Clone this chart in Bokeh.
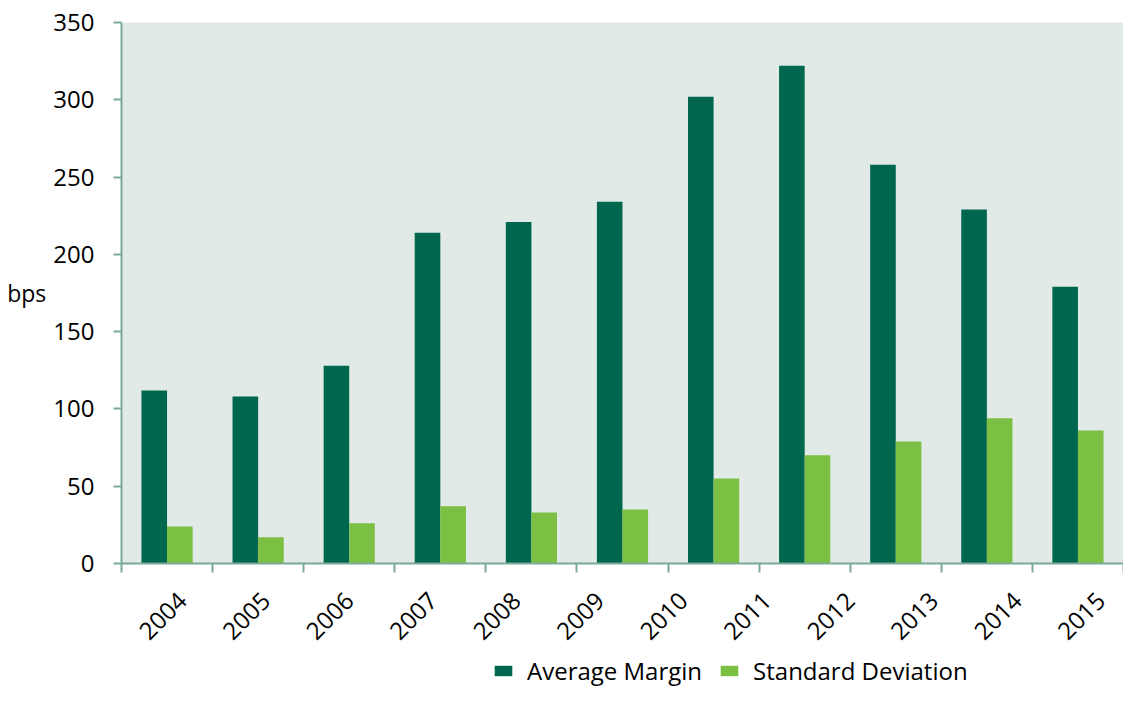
from bokeh.plotting import figure
from bokeh.models import Range1d, FixedTicker, Legend, LegendItem, ColumnDataSource
from bokeh.layouts import column
from bokeh.embed import file_html
from bokeh.resources import INLINE
import math

# ---- data ----
years = ["2004", "2005", "2006", "2007", "2008", "2009", "2010", "2011", "2012", "2013", "2014", "2015"]
avg_margin = [112, 108, 128, 214, 221, 234, 302, 322, 258, 229, 179]
std_dev = [24, 17, 26, 37, 33, 35, 55, 70, 79, 94, 86]
y_ticks = [0, 50, 100, 150, 200, 250, 300, 350]
series_names = ["Average Margin", "Standard Deviation"]

DARK = "#00674f"
LIGHT = "#7bbf43"
BG = "#e1eae7"
AXIS = "#7aaa98"
FONT = "Open Sans"
FS = "24px"

n_groups = len(avg_margin)
bar_w = 0.281
idx = list(range(n_groups))
src = ColumnDataSource(dict(
    xd=[i + 0.5 - bar_w / 2 for i in idx],
    xl=[i + 0.5 + bar_w / 2 for i in idx],
    am=avg_margin,
    sd=std_dev,
))

W = 1123
H_CHART = 655
H_LEG = 32

p = figure(width=W, height=H_CHART, output_backend="svg", toolbar_location=None,
           x_range=Range1d(0, n_groups), y_range=Range1d(0, 350),
           min_border_left=121, min_border_right=0, min_border_top=22,
           min_border_bottom=H_CHART - 22 - 541)
p.background_fill_color = BG
p.border_fill_color = "white"
p.outline_line_color = None
p.grid.visible = False

p.vbar(x="xd", top="am", width=bar_w, source=src, fill_color=DARK, line_color=None)
p.vbar(x="xl", top="sd", width=bar_w, source=src, fill_color=LIGHT, line_color=None)

# x axis: group boundaries as minor ticks, year labels evenly spread
n_lab = len(years)
lab_pos = [(k + 0.5) * n_groups / n_lab + 0.21 for k in range(n_lab)]
xa = p.xaxis[0]
xa.ticker = FixedTicker(ticks=lab_pos, minor_ticks=list(range(n_groups + 1)))
xa.major_label_overrides = {pos: y for pos, y in zip(lab_pos, years)}
xa.major_label_orientation = math.pi / 4
xa.major_tick_out = 0
xa.major_tick_in = 0
xa.minor_tick_out = 9
xa.minor_tick_in = 0
xa.minor_tick_line_color = AXIS
xa.minor_tick_line_width = 2
xa.axis_line_color = AXIS
xa.axis_line_width = 2
xa.major_label_text_font = FONT
xa.major_label_text_font_size = FS
xa.major_label_text_color = "black"
xa.major_label_standoff = 24

ya = p.yaxis[0]
ya.ticker = FixedTicker(ticks=y_ticks, minor_ticks=[])
ya.major_tick_out = 8
ya.major_tick_in = 0
ya.major_tick_line_color = AXIS
ya.major_tick_line_width = 2
ya.axis_line_color = AXIS
ya.axis_line_width = 2
ya.major_label_text_font = FONT
ya.major_label_text_font_size = FS
ya.major_label_text_color = "black"
ya.major_label_standoff = 19
ya.axis_label = "bps"
ya.axis_label_orientation = "horizontal"
ya.axis_label_text_font = FONT
ya.axis_label_text_font_size = "23px"
ya.axis_label_text_font_style = "normal"
ya.axis_label_text_color = "black"
ya.axis_label_standoff = 4

# legend strip below the chart (its renderers are hidden; only the legend shows)
pl = figure(width=W, height=H_LEG, output_backend="svg", toolbar_location=None,
            x_range=Range1d(0, n_groups), y_range=Range1d(0, 350),
            min_border=0, min_border_left=0, min_border_right=0,
            min_border_top=0, min_border_bottom=0)
pl.axis.visible = False
pl.grid.visible = False
pl.outline_line_color = None
pl.background_fill_color = "white"
l1 = pl.vbar(x="xd", top="am", width=bar_w, source=src, fill_color=DARK, line_color=None)
l2 = pl.vbar(x="xl", top="sd", width=bar_w, source=src, fill_color=LIGHT, line_color=None)
l1.visible = False
l2.visible = False
legend = Legend(items=[LegendItem(label=series_names[0], renderers=[l1]),
                       LegendItem(label=series_names[1], renderers=[l2])],
                location=(371, 0), orientation="horizontal",
                glyph_width=22, glyph_height=13, label_standoff=13, spacing=16,
                padding=0, margin=0, border_line_color=None, background_fill_alpha=0,
                inactive_fill_alpha=0,
                label_text_font=FONT, label_text_font_size=FS, label_text_color="black")
pl.add_layout(legend, "center")

layout = column(p, pl, spacing=0)
open("out.html", "w").write(file_html(layout, INLINE))
